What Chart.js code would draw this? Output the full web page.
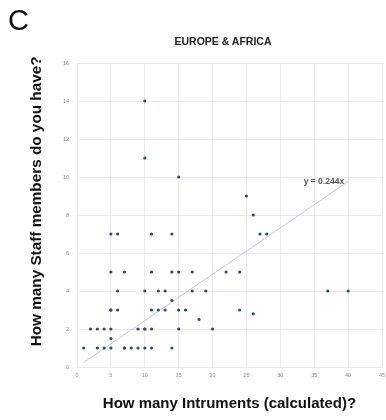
<!DOCTYPE html>
<html>
<head>
<meta charset="utf-8">
<script src="https://cdn.jsdelivr.net/npm/chart.js@4/dist/chart.umd.min.js"></script>
<style>
  html, body { margin: 0; padding: 0; background: #fff; }
  #wrap { position: relative; width: 386px; height: 420px; }
  #panel { position: absolute; left: 8px; top: 4px; font: 29px "Liberation Sans", Arial, sans-serif; color: #111; }
  #title { position: absolute; left: 150px; width: 146px; top: 35px; text-align: center;
           font: bold 10.5px "Liberation Sans", Arial, sans-serif; color: #222; }
  canvas { position: absolute; left: 0; top: 0; }
</style>
</head>
<body>
<div id="wrap">
  <canvas id="chart" width="386" height="420"></canvas>
  <div id="panel">C</div>
  <div id="title">EUROPE &amp; AFRICA</div>
</div>
<script>
// ---------------- DATA ----------------
const instruments = [
    1, 2, 3, 3, 4, 4, 5, 5, 5, 5, 5, 5, 5,
    6, 6, 6, 7, 7, 7, 8, 9, 9, 10, 10, 10, 10, 10, 10,
    11, 11, 11, 11, 11, 12, 12, 13, 13, 14, 14, 14, 14,
    15, 15, 15, 15, 16, 17, 17, 18, 19, 20,
    22, 24, 24, 25, 26, 26, 27, 28, 37, 40
];
const staff = [
    1, 2, 2, 1, 2, 1, 7, 5, 3, 2, 1.5, 1, 3,
    7, 4, 3, 5, 1, 1, 1, 2, 1, 14, 11, 4, 2, 1, 2,
    7, 5, 3, 2, 1, 4, 3, 4, 3, 7, 5, 3.5, 1,
    10, 5, 3, 2, 3, 5, 4, 2.5, 4, 2,
    5, 5, 3, 9, 8, 2.8, 7, 7, 4, 4
];
const xTicks = [0, 5, 10, 15, 20, 25, 30, 35, 40, 45];
const yTicks = [0, 2, 4, 6, 8, 10, 12, 14, 16];

const slope = 0.244;
const trendRange = [1, 40];
const trendLabel = "y = 0.244x";

// ---------------- CHART ----------------
const points = instruments.map((x, i) => ({ x: x, y: staff[i] }));
const trend = trendRange.map(x => ({ x: x, y: slope * x }));

const trendText = {
    id: "trendText",
    afterDatasetsDraw(chart) {
        const { ctx, scales } = chart;
        const px = scales.x.getPixelForValue(trendRange[1]);
        const py = scales.y.getPixelForValue(slope * trendRange[1]);
        ctx.save();
        ctx.font = "bold 8.5px 'Liberation Sans', Arial, sans-serif";
        ctx.fillStyle = "#555";
        ctx.textAlign = "right";
        ctx.textBaseline = "middle";
        ctx.fillText(trendLabel, px - 4, py);
        ctx.restore();
    }
};

new Chart(document.getElementById("chart"), {
    type: "scatter",
    data: {
        datasets: [{
            data: points,
            backgroundColor: "#2e4d5c",
            borderColor: "#2e4d5c",
            pointRadius: 1.6,
            pointBorderWidth: 0
        }, {
            type: "line",
            data: trend,
            borderColor: "#b9cdd6",
            borderWidth: 1,
            pointRadius: 0,
            fill: false
        }]
    },
    options: {
        responsive: false,
        animation: false,
        layout: { padding: { top: 63, right: 3, left: 0, bottom: 0 } },
        plugins: {
            legend: { display: false },
            tooltip: { enabled: false }
        },
        scales: {
            x: {
                type: "linear",
                min: 0,
                max: 45,
                afterBuildTicks: s => { s.ticks = xTicks.map(v => ({ value: v })); },
                afterFit: s => { s.height = 53; s.paddingLeft = 0; s.paddingRight = 0; },
                grid: { color: "#e9e9e9", drawTicks: false },
                border: { color: "#e9e9e9" },
                ticks: {
                    padding: 5,
                    color: "#8a8a8a",
                    font: { size: 5.5, family: "'Liberation Sans', Arial, sans-serif" }
                },
                title: {
                    display: true,
                    text: "How many Intruments (calculated)?",
                    color: "#111",
                    padding: { top: 0, bottom: 7 },
                    font: { size: 15, weight: "bold", family: "'Liberation Sans', Arial, sans-serif" }
                }
            },
            y: {
                type: "linear",
                min: 0,
                max: 16,
                afterBuildTicks: s => { s.ticks = yTicks.map(v => ({ value: v })); },
                afterFit: s => { s.width = 77; s.paddingTop = 0; s.paddingBottom = 0; },
                grid: { color: "#e9e9e9", drawTicks: false },
                border: { color: "#e9e9e9" },
                ticks: {
                    padding: 8,
                    color: "#8a8a8a",
                    font: { size: 5.5, family: "'Liberation Sans', Arial, sans-serif" }
                },
                title: {
                    display: true,
                    // leading spaces nudge the centred title up to match the reference
                    text: "\u2003\u2002 How many Staff members do you have?",
                    color: "#111",
                    padding: { top: 28, bottom: 0 },
                    font: { size: 15.3, weight: "bold", family: "'Liberation Sans', Arial, sans-serif" }
                }
            }
        }
    },
    plugins: [trendText]
});
</script>
</body>
</html>
